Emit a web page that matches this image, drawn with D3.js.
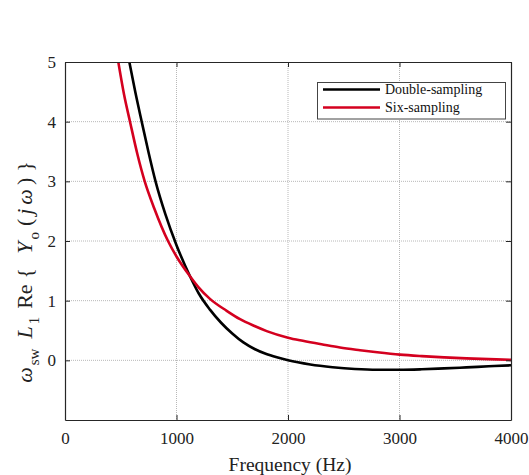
<!DOCTYPE html>
<html><head><meta charset="utf-8">
<script src="https://cdn.jsdelivr.net/npm/d3@7"></script>
<style>body{margin:0;background:#fff}</style>
</head><body>
<script>
const freqDouble = [577, 630, 688, 750, 812, 900, 1000, 1121, 1200, 1300, 1400, 1500, 1600, 1700, 1800, 1900, 2000, 2200, 2400, 2600, 2800, 3000, 3200, 3400, 3600, 3800, 4000];
const valDouble  = [5.0, 4.5, 4.0, 3.48, 3.0, 2.45, 1.93, 1.41, 1.12, 0.85, 0.63, 0.45, 0.30, 0.19, 0.11, 0.05, 0.0, -0.07, -0.115, -0.145, -0.158, -0.158, -0.15, -0.135, -0.118, -0.1, -0.083];
const freqSix = [478, 530, 583, 650, 715, 800, 924, 1000, 1121, 1200, 1300, 1450, 1570, 1700, 1809, 2000, 2108, 2300, 2466, 2646, 2800, 3004, 3200, 3400, 3600, 3800, 4000];
const valSix  = [5.0, 4.45, 4.0, 3.45, 3.0, 2.55, 2.0, 1.74, 1.41, 1.22, 1.03, 0.83, 0.69, 0.575, 0.49, 0.38, 0.335, 0.27, 0.215, 0.17, 0.135, 0.095, 0.07, 0.05, 0.033, 0.02, 0.008];
const xTicks = [0, 1000, 2000, 3000, 4000];
const yTicks = [0, 1, 2, 3, 4, 5];
const seriesNames = ["Double-sampling", "Six-sampling"];
const seriesColors = ["#000000", "#d4001f"];

const W = 529, H = 475;
const L = 65, R = 511, T = 62, B = 420;
const svg = d3.select("body").append("svg").attr("width", W).attr("height", H)
  .style("font-family", "'Liberation Serif', 'Times New Roman', serif");
const x = d3.scaleLinear().domain([0, 4000]).range([L, R]);
const y = d3.scaleLinear().domain([-1, 5]).range([B, T]);

// grid
const g = svg.append("g");
g.selectAll(".gx").data(xTicks.slice(1, -1)).join("line")
  .attr("x1", d => x(d)).attr("x2", d => x(d)).attr("y1", T).attr("y2", B)
  .attr("stroke", "#b8b8b8").attr("stroke-width", 1).attr("stroke-dasharray", "1,1");
g.selectAll(".gy").data(yTicks.slice(0, -1)).join("line")
  .attr("y1", d => y(d)).attr("y2", d => y(d)).attr("x1", L).attr("x2", R)
  .attr("stroke", "#b8b8b8").attr("stroke-width", 1).attr("stroke-dasharray", "1,1");

// clip
svg.append("clipPath").attr("id", "clip").append("rect")
  .attr("x", L).attr("y", T).attr("width", R - L).attr("height", B - T);

const line = d3.line().x(d => x(d[0])).y(d => y(d[1])).curve(d3.curveMonotoneX);
const dataDouble = freqDouble.map((f, i) => [f, valDouble[i]]);
const dataSix = freqSix.map((f, i) => [f, valSix[i]]);
svg.append("path").datum(dataDouble).attr("d", line).attr("fill", "none")
  .attr("stroke", seriesColors[0]).attr("stroke-width", 2.6).attr("clip-path", "url(#clip)");
svg.append("path").datum(dataSix).attr("d", line).attr("fill", "none")
  .attr("stroke", seriesColors[1]).attr("stroke-width", 2.6).attr("clip-path", "url(#clip)");

// axes (ticks inward, box)
const axCol = "#262626";
const xb = svg.append("g").attr("transform", `translate(0,${B})`)
  .call(d3.axisBottom(x).tickValues(xTicks).tickSizeInner(-5).tickSizeOuter(0).tickPadding(12).tickFormat(d3.format("d")));
const xt = svg.append("g").attr("transform", `translate(0,${T})`)
  .call(d3.axisTop(x).tickValues(xTicks).tickSizeInner(-5).tickSizeOuter(0).tickFormat(""));
const yl = svg.append("g").attr("transform", `translate(${L},0)`)
  .call(d3.axisLeft(y).tickValues(yTicks).tickSizeInner(-5).tickSizeOuter(0).tickPadding(9).tickFormat(d3.format("d")));
const yr = svg.append("g").attr("transform", `translate(${R},0)`)
  .call(d3.axisRight(y).tickValues(yTicks).tickSizeInner(-5).tickSizeOuter(0).tickFormat(""));
[xb, xt, yl, yr].forEach(a => {
  a.select(".domain").attr("stroke", axCol).attr("stroke-width", 1.2);
  a.selectAll(".tick line").attr("stroke", axCol).attr("stroke-width", 1);
  a.selectAll(".tick text").attr("fill", "#222").style("font-size", "17px")
    .style("font-family", "'Liberation Serif', serif");
});

// x label
svg.append("text").attr("x", x(2000) + 2).attr("y", 471).attr("text-anchor", "middle")
  .attr("fill", "#222").style("font-size", "19.5px").text("Frequency (Hz)");

// y label
const yt = svg.append("text").attr("transform", "translate(32,272) rotate(-90)")
  .attr("text-anchor", "middle").attr("fill", "#222").style("font-size", "22px");
yt.append("tspan").style("font-style", "italic").text("ω");
yt.append("tspan").attr("dy", 7).attr("dx", 2).style("font-size", "15px").text("sw");
yt.append("tspan").attr("dy", -7).attr("dx", 10).style("font-style", "italic").text("L");
yt.append("tspan").attr("dy", 7).attr("dx", 2).style("font-size", "15px").text("1");
yt.append("tspan").attr("dy", -7).attr("dx", 8).text("Re");
yt.append("tspan").attr("dx", 6).text("{");
yt.append("tspan").attr("dx", 14).style("font-style", "italic").text("Y");
yt.append("tspan").attr("dy", 7).attr("dx", 2).style("font-size", "15px").text("o");
yt.append("tspan").attr("dy", -7).attr("dx", 6).text("(");
yt.append("tspan").attr("dx", 4).style("font-style", "italic").text("j");
yt.append("tspan").attr("dx", 4).style("font-style", "italic").text("ω");
yt.append("tspan").attr("dx", 4).text(")");
yt.append("tspan").attr("dx", 6).text("}");

// legend
const lg = svg.append("g");
lg.append("rect").attr("x", 317.5).attr("y", 82.5).attr("width", 188).attr("height", 36.5)
  .attr("fill", "#fff").attr("stroke", "#444").attr("stroke-width", 1);
seriesNames.forEach((n, i) => {
  const yy = 89.5 + i * 18;
  lg.append("line").attr("x1", 323).attr("x2", 380).attr("y1", yy).attr("y2", yy)
    .attr("stroke", seriesColors[i]).attr("stroke-width", 2.6);
  lg.append("text").attr("x", 385).attr("y", yy + 4.5).attr("fill", "#111")
    .style("font-size", "14px").text(n);
});
</script>
</body></html>
